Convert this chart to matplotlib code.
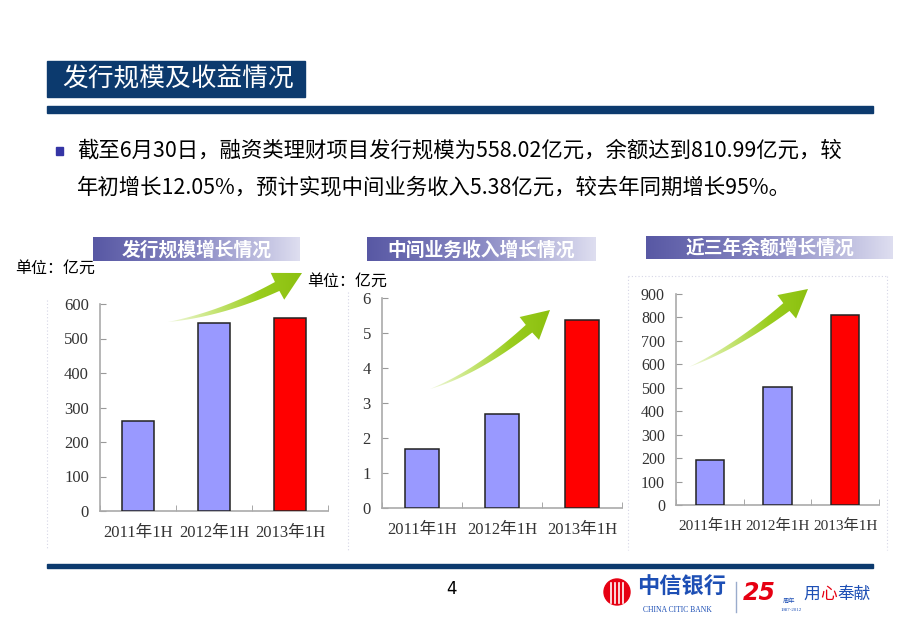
import numpy as np
import matplotlib
matplotlib.use("Agg")
import matplotlib.pyplot as plt
from matplotlib.colors import LinearSegmentedColormap
from matplotlib.patches import Polygon, Rectangle, Circle

plt.rcParams["font.family"] = ["Noto Sans CJK SC", "DejaVu Sans"]

# data
categories = ["2011年1H", "2012年1H", "2013年1H"]
issue_scale = [260, 545, 558.02]      # 发行规模, 亿元
income = [1.7, 2.7, 5.38]              # 中间业务收入, 亿元
balance = [190, 505, 810.99]          # 余额, 亿元
bar_colors = ["#9999FF", "#9999FF", "#FF0000"]

W, H = 920, 637
NAVY = "#0C3A6E"
SERIF = ["Liberation Serif", "Noto Sans CJK SC"]

fig = plt.figure(figsize=(W / 100, H / 100), dpi=100)
fig.patch.set_facecolor("white")


def px_axes(x0, x1, ytop, ybot):
    return fig.add_axes([x0 / W, 1 - ybot / H, (x1 - x0) / W, (ybot - ytop) / H])


def bar_chart(x0, x1, ytop, ybot, values, ymax, step, xsize=12, ysize=12):
    ax = px_axes(x0, x1, ytop, ybot)
    ax.set_facecolor("none")
    xs = np.arange(len(values))
    ax.bar(xs, values, width=0.42, color=bar_colors, edgecolor="#222222", linewidth=1.1, zorder=3)
    ax.set_xlim(-0.5, len(values) - 0.5)
    ax.set_ylim(0, ymax)
    ax.set_yticks(np.arange(0, ymax + step / 2, step))
    ax.set_xticks(xs)
    ax.set_xticklabels(categories, family=SERIF, fontsize=xsize, color="#333333")
    ax.set_xticks(np.arange(-0.5, len(values), 1.0), minor=True)
    ax.tick_params(axis="x", which="major", length=0, pad=10)
    ax.tick_params(axis="x", which="minor", direction="in", length=4, color="#999999")
    ax.tick_params(axis="y", direction="in", length=4, color="#999999", pad=8,
                   labelsize=ysize, labelcolor="#333333")
    for lbl in ax.get_yticklabels():
        lbl.set_family(SERIF)
    for s in ["top", "right"]:
        ax.spines[s].set_visible(False)
    for s in ["left", "bottom"]:
        ax.spines[s].set_color("#aaaaaa")
        ax.spines[s].set_linewidth(1.2)
    return ax


bar_chart(100, 328, 304, 511, issue_scale, 600, 100)
bar_chart(382, 622, 298, 508, income, 6, 1)
bar_chart(676, 879, 294, 505, balance, 900, 100, xsize=11, ysize=11.5)

# overlay in pixel coordinates for slide decorations
bg = fig.add_axes([0, 0, 1, 1], zorder=5)
bg.patch.set_visible(False)
bg.axis("off")

# title bar
bg.add_patch(Rectangle((47, 61), 258, 36, color=NAVY))
bg.text(62, 79, "发行规模及收益情况", color="white", fontsize=18.5, va="center", ha="left")
bg.add_patch(Rectangle((47, 106), 826, 7, color=NAVY))

# bullet text
bg.add_patch(Rectangle((56, 147), 7, 8, color="#3535A5"))
bg.text(77, 151, "截至6月30日，融资类理财项目发行规模为558.02亿元，余额达到810.99亿元，较",
        fontsize=15.4, va="center", ha="left", color="black")
bg.text(77, 187, "年初增长12.05%，预计实现中间业务收入5.38亿元，较去年同期增长95%。",
        fontsize=15.4, va="center", ha="left", color="black")

# gradient banners
banner_cmap = LinearSegmentedColormap.from_list("banner", ["#5858A4", "#8A8AC4", "#DEDEF0"])
grad = np.linspace(0, 1, 256)[None, :]
banners = [(93, 300, 237, 261, "发行规模增长情况"),
           (367, 596, 237, 261, "中间业务收入增长情况"),
           (646, 893, 236, 259, "近三年余额增长情况")]
for bx0, bx1, by0, by1, label in banners:
    bg.imshow(grad, cmap=banner_cmap, extent=(bx0, bx1, by1, by0), aspect="auto", zorder=1)
    bg.text((bx0 + bx1) / 2, (by0 + by1) / 2 + 1, label, color="white", fontsize=13.5,
            fontweight="bold", ha="center", va="center", zorder=2)

# units
bg.text(15, 268, "单位：亿元", fontsize=11.5, va="center", ha="left")
bg.text(307, 281, "单位：亿元", fontsize=11.5, va="center", ha="left")

# faint dotted frames
frame_kw = dict(color="#d6d6e6", linestyle=(0, (1, 2)), linewidth=0.8)
bg.plot([47, 47], [300, 548], **frame_kw)
bg.plot([348, 348], [292, 550], **frame_kw)
bg.plot([628, 628], [276, 550], **frame_kw)
bg.plot([887, 887], [276, 550], **frame_kw)
bg.plot([628, 887], [276, 276], **frame_kw)

# green growth arrows
arrow_cmap = LinearSegmentedColormap.from_list("arrow", ["#F2F9E0", "#C8E67A", "#9ACD1E", "#8CC010"])


def growth_arrow(p0, p1, p2, head_len=28, head_w=15, body_w=5):
    p0, p1, p2 = map(np.array, (p0, p1, p2))
    t = np.linspace(0, 1, 400)[:, None]
    pts = (1 - t) ** 2 * p0 + 2 * (1 - t) * t * p1 + t ** 2 * p2
    seg = np.r_[0, np.hypot(*np.diff(pts, axis=0).T)]
    cum = np.cumsum(seg)
    nb = np.searchsorted(cum, cum[-1] - head_len)
    tan = np.gradient(pts, axis=0)
    tan /= np.hypot(tan[:, 0], tan[:, 1])[:, None]
    nrm = np.c_[-tan[:, 1], tan[:, 0]]
    body = pts[:nb]
    w = body_w * (cum[:nb] / cum[nb]) ** 0.9
    left = body + nrm[:nb] * w[:, None]
    right = body - nrm[:nb] * w[:, None]
    base = pts[nb]
    poly = np.vstack([left, base + nrm[nb] * head_w, p2, base - nrm[nb] * head_w, right[::-1]])
    patch = Polygon(poly, closed=True, facecolor="none", edgecolor="none")
    bg.add_patch(patch)
    xs, ys = poly[:, 0], poly[:, 1]
    im = bg.imshow(grad, cmap=arrow_cmap, extent=(xs.min(), xs.max(), ys.max(), ys.min()),
                   aspect="auto", zorder=3)
    im.set_clip_path(patch)


growth_arrow((168, 322), (235, 312), (302, 273))
growth_arrow((430, 389), (487, 369), (550, 310))
growth_arrow((689, 367), (746, 343), (808, 289))

# footer
bg.add_patch(Rectangle((47, 564), 826, 4, color=NAVY))
bg.text(452, 589, "4", fontsize=12, ha="center", va="center", family="DejaVu Sans")
bg.add_patch(Circle((617, 592), 13, color="#E60012"))
for dx in (-6, -2, 2, 6):
    bg.plot([617 + dx, 617 + dx], [583, 603], color="white", linewidth=1.2)
bg.text(637, 586, "中信银行", fontsize=16, color="#1D4FB5", fontweight="bold", va="center", ha="left")
bg.text(643, 610, "CHINA CITIC BANK", fontsize=5.5, color="#1D4FB5", va="center", ha="left",
        family="Liberation Serif")
bg.plot([736, 736], [582, 612], color="#9aaccc", linewidth=1)
bg.text(743, 593, "25", fontsize=17, color="#E60012", fontweight="bold", fontstyle="italic",
        va="center", ha="left", family="DejaVu Sans")
bg.text(783, 601, "周年", fontsize=4.5, color="#1D4FB5", va="center", ha="left")
bg.text(781, 610, "1987-2012", fontsize=3.5, color="#1D4FB5", va="center", ha="left",
        family="Liberation Serif")
bg.text(803, 594, "用", fontsize=12, color="#1D4FB5", va="center", ha="left")
bg.text(820, 594, "心", fontsize=12, color="#E60012", va="center", ha="left")
bg.text(837, 594, "奉献", fontsize=12, color="#1D4FB5", va="center", ha="left")

bg.set_xlim(0, W)
bg.set_ylim(H, 0)

fig.savefig("out.png", dpi=100)
